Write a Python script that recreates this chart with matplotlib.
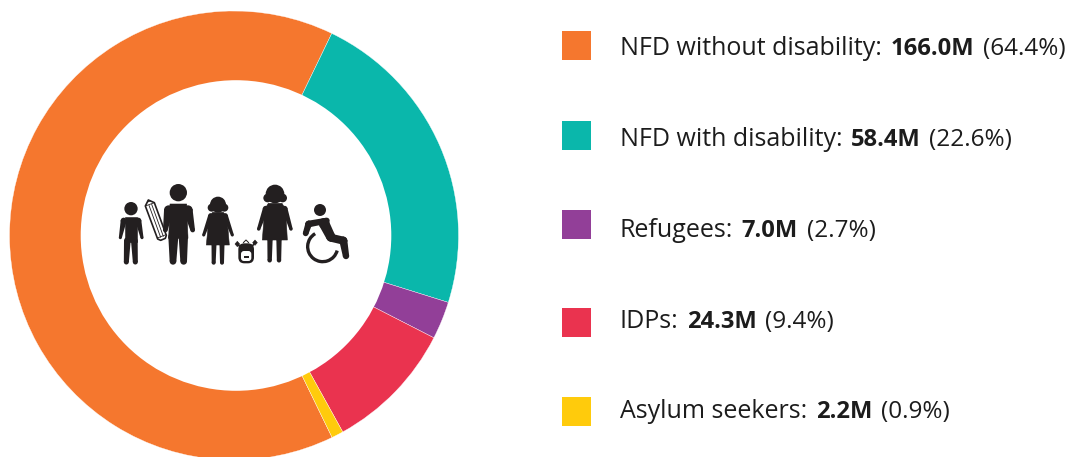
import numpy as np
import matplotlib
matplotlib.use("Agg")
import matplotlib.pyplot as plt
from matplotlib.patches import Circle, Polygon, Rectangle, FancyBboxPatch, Arc

# Population groups, in legend order
groups = ["NFD without disability", "NFD with disability", "Refugees", "IDPs", "Asylum seekers"]
millions = [166.0, 58.4, 7.0, 24.3, 2.2]
shares = ["64.4%", "22.6%", "2.7%", "9.4%", "0.9%"]
colors = ["#F5772E", "#0AB7AB", "#923F98", "#EA334F", "#FFCB0C"]

W, H = 1067, 457
INK = "#231F20"
TEXT = "#1c1c1c"
FONT = "Open Sans"

fig = plt.figure(figsize=(W / 100, H / 100), dpi=100)
ax = fig.add_axes([0, 0, 1, 1])

# Donut: full pie with a slightly off-centre white hole on top
ax.pie(millions, colors=colors, center=(234, H - 235.5), radius=224.5, startangle=295.9,
       counterclock=False, frame=True,
       wedgeprops=dict(edgecolor="white", linewidth=0.25))
ax.add_patch(Circle((236, H - 235.5), 155.3, fc="white", ec="none", zorder=3))
ax.set_xlim(0, W)
ax.set_ylim(0, H)
ax.set_aspect("equal")
ax.axis("off")


# Pictogram helpers, working in a local drawing grid of thirds of a pixel
def p(x, y):
    return 100 + x / 3, H - (170 + y / 3)


def shape(points, fc=INK, ec=INK, lw=0.4, z=5):
    ax.add_patch(Polygon([p(*q) for q in points], closed=True, fc=fc, ec=ec, lw=lw,
                         joinstyle="round", zorder=z))


def dot(x, y, r, fc=INK, z=5):
    ax.add_patch(Circle(p(x, y), r / 3, fc=fc, ec="none", zorder=z))


def stroke(points, w, color=INK, z=5):
    xs, ys = zip(*[p(*q) for q in points])
    ax.plot(xs, ys, color=color, lw=w / 3 * 0.72, solid_capstyle="round",
            solid_joinstyle="round", zorder=z)


def limb(x0, y0, w0, x1, y1, w1):
    """Tapered limb with rounded ends."""
    d = np.array([x1 - x0, y1 - y0], float)
    n = np.array([-d[1], d[0]]) / np.hypot(*d)
    a, b = np.array([x0, y0]), np.array([x1, y1])
    shape([a + n * w0 / 2, b + n * w1 / 2, b - n * w1 / 2, a - n * w0 / 2], lw=0)
    dot(x0, y0, w0 / 2)
    dot(x1, y1, w1 / 2)


# Boy
dot(93, 116, 20)
shape([(74, 140), (112, 140), (112, 215), (74, 215)])
limb(71, 152, 18, 61, 203, 9)
limb(115, 152, 18, 126, 203, 9)
limb(82, 212, 20, 79, 276, 15)
limb(103, 212, 20, 106, 276, 15)

# Pencil
shape([(145, 90), (163, 98), (199, 196), (196, 205), (182, 211), (173, 207), (136, 108)],
      fc="white", lw=1.2)
stroke([(136, 108), (163, 98)], 2.5)
stroke([(172, 204), (198, 194)], 2.5)
stroke([(147, 106), (182, 202)], 2.5)
stroke([(155, 103), (190, 199)], 2.5)
shape([(145, 90), (152, 93), (142, 97)], lw=0.3)

# Man
dot(235, 68, 26)
shape([(210, 102), (260, 102), (264, 205), (206, 205)])
limb(206, 120, 28, 196, 180, 14)
limb(264, 120, 28, 278, 180, 14)
limb(220, 200, 30, 219, 274, 20)
limb(250, 200, 28, 251, 274, 20)

# Girl
dot(354, 104, 24)
dot(335, 113, 12)
dot(373, 113, 12)
shape([(338, 127), (370, 127), (381, 142), (388, 225), (319, 225), (327, 142)])
limb(332, 137, 15, 311, 195, 9)
limb(376, 137, 15, 397, 195, 9)
limb(342, 222, 15, 341, 278, 12)
limb(366, 222, 15, 366, 278, 12)

# Backpack
shape([(412, 214), (419, 222), (412, 230), (405, 222)])
shape([(465, 210), (472, 218), (465, 226), (458, 218)])
stroke([(414, 224), (424, 234)], 5)
stroke([(463, 220), (453, 234)], 5)
stroke([(430, 218), (438, 210), (446, 218)], 3)
ax.add_patch(FancyBboxPatch(p(415, 280), 47 / 3, 60 / 3, boxstyle="round,pad=0,rounding_size=6",
                            fc=INK, ec="none", zorder=5))
ax.add_patch(FancyBboxPatch(p(423, 273), 31 / 3, 30 / 3, boxstyle="round,pad=0,rounding_size=3",
                            fc="white", ec="none", zorder=6))
ax.add_patch(Rectangle(p(431, 263), 16 / 3, 6 / 3, fc=INK, ec="none", zorder=7))

# Woman
dot(525, 72, 28)
dot(503, 84, 13)
dot(548, 84, 13)
shape([(505, 100), (546, 100), (557, 118), (562, 210), (487, 210), (494, 118)])
limb(497, 116, 17, 476, 177, 10)
limb(554, 116, 17, 573, 177, 10)
limb(510, 207, 16, 509, 271, 13)
limb(537, 207, 16, 537, 271, 13)

# Wheelchair user
dot(660, 120, 18)
limb(672, 160, 32, 692, 200, 28)
limb(692, 203, 24, 730, 212, 24)
limb(730, 212, 24, 738, 258, 19)
limb(680, 152, 18, 626, 162, 20)
limb(626, 162, 20, 617, 190, 17)
ax.add_patch(Arc(p(668, 230), 90 / 3, 90 / 3, theta1=120, theta2=345,
                 color=INK, lw=10 / 3 * 0.72, zorder=5))

# Legend: swatches with mixed-weight labels set end to end
swatch_tops = [31, 121, 210, 308, 397]
baselines = [55, 146, 237, 328, 418.5]
GAP = 8.5
renderer = fig.canvas.get_renderer()
for name, value, share, color, top, base in zip(groups, millions, shares, colors, swatch_tops, baselines):
    ax.add_patch(Rectangle((562, H - top - 29), 29, 29, fc=color, ec="none"))
    x = 620
    for run, weight, size in [(f"{name}:", "normal", 18.0), (f"{value:.1f}M", "bold", 17.1),
                              (f"({share})", "normal", 17.5)]:
        t = ax.text(x, H - base, run, fontsize=size, family=FONT, fontweight=weight,
                    color=TEXT, va="baseline", ha="left")
        x = t.get_window_extent(renderer).x1 + GAP

fig.savefig("out.png", dpi=100)
